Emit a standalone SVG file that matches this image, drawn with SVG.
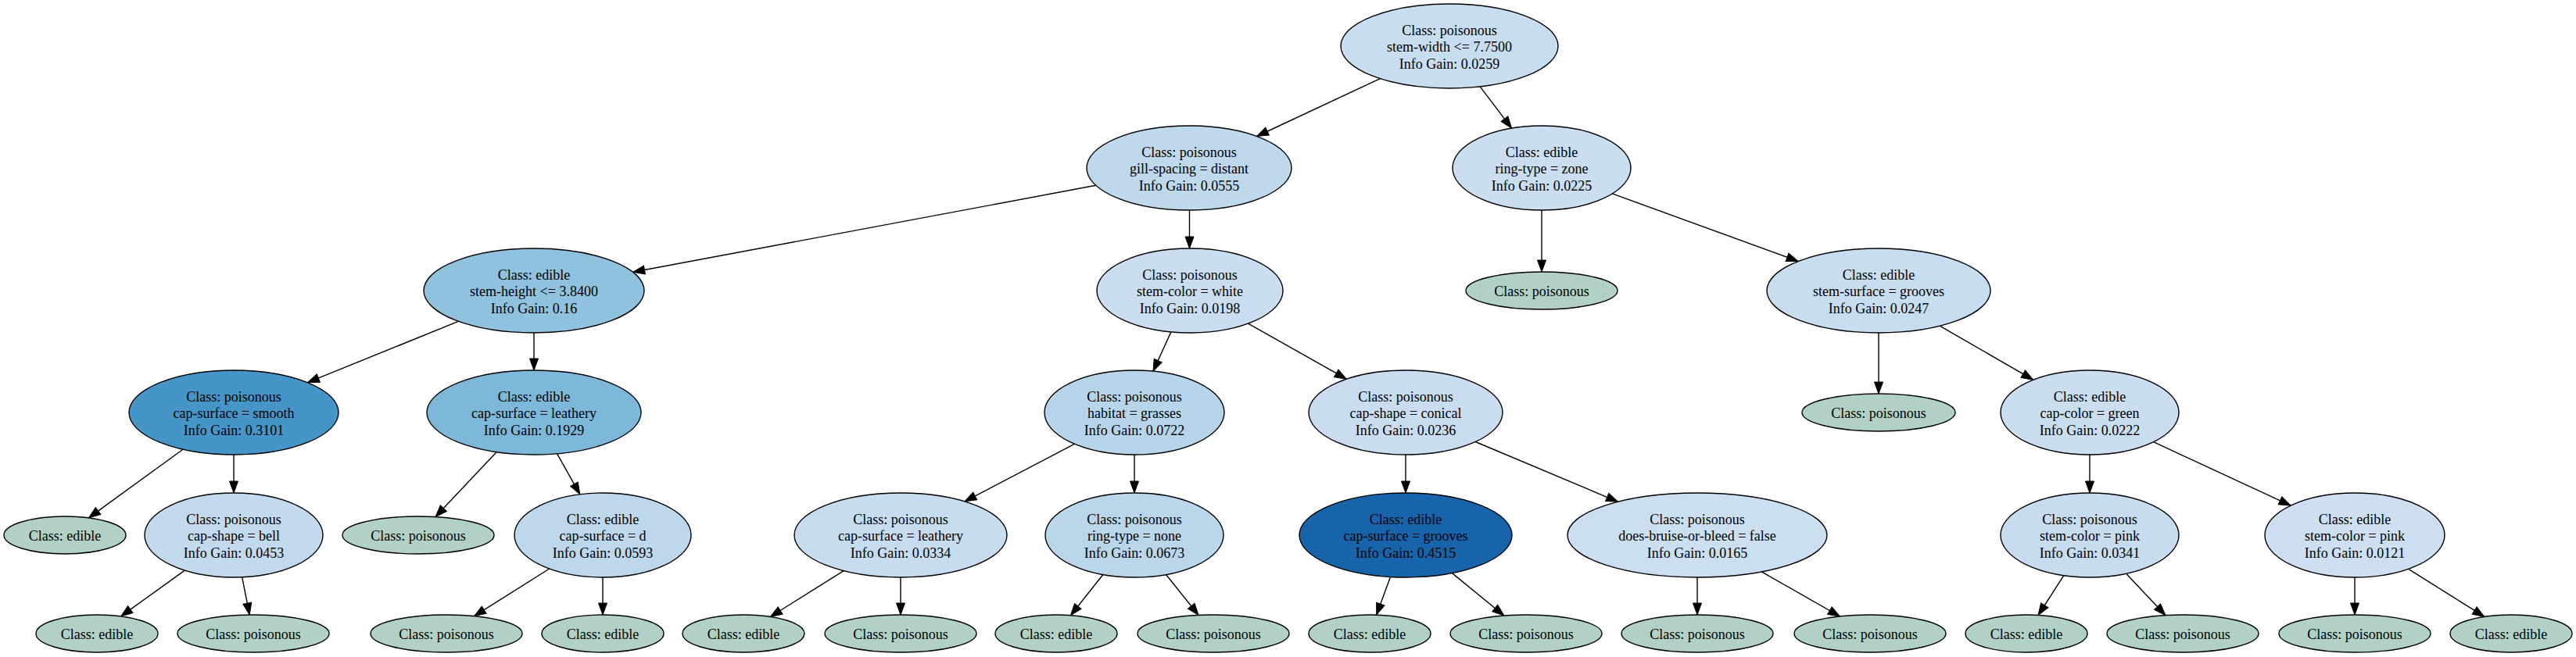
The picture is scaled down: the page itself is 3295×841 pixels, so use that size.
<svg xmlns="http://www.w3.org/2000/svg" width="3295" height="841" viewBox="0 0 3295 841">
<style>
ellipse{stroke:#000;stroke-width:1.4}
.lf{fill:#b1d1c6}
text{font-family:"Liberation Serif","Times New Roman",serif;font-size:18px;fill:#000;text-anchor:middle}
#edges line{stroke:#000;stroke-width:1.4;marker-end:url(#ah)}
</style>
<defs>
<marker id="ah" markerUnits="userSpaceOnUse" markerWidth="17" markerHeight="14" refX="15" refY="7" orient="auto" overflow="visible">
<path d="M0,1.5 L15,7 L0,12.5 z" fill="#000" stroke="#000" stroke-width="1"/>
</marker>
</defs>
<rect width="3295" height="841" fill="#fff"/>
<g id="edges">
<line x1="1765.3" y1="100.6" x2="1607.5" y2="174.5"/>
<line x1="1893.2" y1="110.8" x2="1933.5" y2="164.2"/>
<line x1="1401.7" y1="237.3" x2="809.7" y2="348.3"/>
<line x1="1521.5" y1="269" x2="1521.5" y2="318"/>
<line x1="1972" y1="269" x2="1972" y2="348"/>
<line x1="2062.4" y1="247.9" x2="2300.1" y2="334.5"/>
<line x1="586.3" y1="411.3" x2="393.4" y2="489.7"/>
<line x1="683" y1="426" x2="683" y2="474"/>
<line x1="1497.9" y1="424.9" x2="1475" y2="475.2"/>
<line x1="1596.5" y1="414.1" x2="1722.3" y2="485.2"/>
<line x1="2403" y1="426" x2="2403" y2="504"/>
<line x1="2481.2" y1="417.2" x2="2600.7" y2="486.2"/>
<line x1="234" y1="575.2" x2="113.4" y2="662.9"/>
<line x1="299" y1="582" x2="299" y2="631"/>
<line x1="635.3" y1="578.6" x2="557" y2="661.6"/>
<line x1="712.5" y1="580.7" x2="741.8" y2="632.8"/>
<line x1="1374.3" y1="568.3" x2="1234" y2="641.9"/>
<line x1="1451" y1="582" x2="1451" y2="631"/>
<line x1="1798" y1="582" x2="1798" y2="631"/>
<line x1="1887.2" y1="565.5" x2="2069.5" y2="642.3"/>
<line x1="2673" y1="582" x2="2673" y2="631"/>
<line x1="2754.5" y1="565.7" x2="2930.1" y2="647.1"/>
<line x1="236.3" y1="730.1" x2="154.7" y2="788.9"/>
<line x1="309.7" y1="738.8" x2="319.2" y2="787"/>
<line x1="702.7" y1="728" x2="606.5" y2="788.7"/>
<line x1="771" y1="739" x2="771" y2="787"/>
<line x1="1079.2" y1="730.6" x2="985.4" y2="789.5"/>
<line x1="1152" y1="739" x2="1152" y2="787"/>
<line x1="1410.9" y1="735.5" x2="1369.5" y2="787.7"/>
<line x1="1491.5" y1="735.5" x2="1533.1" y2="787.5"/>
<line x1="1778.5" y1="738.4" x2="1760.7" y2="787.1"/>
<line x1="1857.4" y1="733.6" x2="1923.9" y2="788"/>
<line x1="2171" y1="739" x2="2171" y2="787"/>
<line x1="2253.3" y1="731.9" x2="2353.4" y2="789"/>
<line x1="2639.8" y1="736.7" x2="2607.1" y2="787.5"/>
<line x1="2719.6" y1="734.3" x2="2769.9" y2="787.6"/>
<line x1="3012" y1="739" x2="3012" y2="787"/>
<line x1="3080.7" y1="728.3" x2="3177.8" y2="789.4"/>
</g>
<g id="root"><ellipse cx="1854" cy="59" rx="139" ry="54" fill="#c9ddf0"/><text x="1854" y="44.5">Class: poisonous</text><text x="1854" y="66">stem-width &lt;= 7.7500</text><text x="1854" y="87.5">Info Gain: 0.0259</text></g>
<g id="nA"><ellipse cx="1521" cy="215" rx="131" ry="54" fill="#bed8ec"/><text x="1521" y="200.5">Class: poisonous</text><text x="1521" y="222">gill-spacing = distant</text><text x="1521" y="243.5">Info Gain: 0.0555</text></g>
<g id="nB"><ellipse cx="1972" cy="215" rx="114" ry="54" fill="#cadef0"/><text x="1972" y="200.5">Class: edible</text><text x="1972" y="222">ring-type = zone</text><text x="1972" y="243.5">Info Gain: 0.0225</text></g>
<g id="nC"><ellipse cx="683" cy="372" rx="141" ry="54" fill="#8fc2de"/><text x="683" y="357.5">Class: edible</text><text x="683" y="379">stem-height &lt;= 3.8400</text><text x="683" y="400.5">Info Gain: 0.16</text></g>
<g id="nD"><ellipse cx="1522" cy="372" rx="119" ry="54" fill="#cbdef1"/><text x="1522" y="357.5">Class: poisonous</text><text x="1522" y="379">stem-color = white</text><text x="1522" y="400.5">Info Gain: 0.0198</text></g>
<g id="nE"><ellipse class="lf" cx="1972" cy="372" rx="97" ry="24"/><text x="1972" y="378.5">Class: poisonous</text></g>
<g id="nF"><ellipse cx="2403" cy="372" rx="143" ry="54" fill="#c9ddf0"/><text x="2403" y="357.5">Class: edible</text><text x="2403" y="379">stem-surface = grooves</text><text x="2403" y="400.5">Info Gain: 0.0247</text></g>
<g id="nG"><ellipse cx="299" cy="528" rx="134" ry="54" fill="#4695c8"/><text x="299" y="513.5">Class: poisonous</text><text x="299" y="535">cap-surface = smooth</text><text x="299" y="556.5">Info Gain: 0.3101</text></g>
<g id="nH"><ellipse cx="683" cy="528" rx="137" ry="54" fill="#7db8da"/><text x="683" y="513.5">Class: edible</text><text x="683" y="535">cap-surface = leathery</text><text x="683" y="556.5">Info Gain: 0.1929</text></g>
<g id="nI"><ellipse cx="1451" cy="528" rx="115" ry="54" fill="#b7d5ea"/><text x="1451" y="513.5">Class: poisonous</text><text x="1451" y="535">habitat = grasses</text><text x="1451" y="556.5">Info Gain: 0.0722</text></g>
<g id="nJ"><ellipse cx="1798" cy="528" rx="124" ry="54" fill="#caddf0"/><text x="1798" y="513.5">Class: poisonous</text><text x="1798" y="535">cap-shape = conical</text><text x="1798" y="556.5">Info Gain: 0.0236</text></g>
<g id="nK"><ellipse class="lf" cx="2403" cy="528" rx="98" ry="24"/><text x="2403" y="534.5">Class: poisonous</text></g>
<g id="nL"><ellipse cx="2673" cy="528" rx="114" ry="54" fill="#cadef0"/><text x="2673" y="513.5">Class: edible</text><text x="2673" y="535">cap-color = green</text><text x="2673" y="556.5">Info Gain: 0.0222</text></g>
<g id="n4a"><ellipse class="lf" cx="83" cy="685" rx="78" ry="24"/><text x="83" y="691.5">Class: edible</text></g>
<g id="nM"><ellipse cx="299" cy="685" rx="114" ry="54" fill="#c3daee"/><text x="299" y="670.5">Class: poisonous</text><text x="299" y="692">cap-shape = bell</text><text x="299" y="713.5">Info Gain: 0.0453</text></g>
<g id="n4b"><ellipse class="lf" cx="535" cy="685" rx="97" ry="24"/><text x="535" y="691.5">Class: poisonous</text></g>
<g id="nN"><ellipse cx="771" cy="685" rx="113" ry="54" fill="#bdd7ec"/><text x="771" y="670.5">Class: edible</text><text x="771" y="692">cap-surface = d</text><text x="771" y="713.5">Info Gain: 0.0593</text></g>
<g id="nO"><ellipse cx="1152" cy="685" rx="136" ry="54" fill="#c7dcef"/><text x="1152" y="670.5">Class: poisonous</text><text x="1152" y="692">cap-surface = leathery</text><text x="1152" y="713.5">Info Gain: 0.0334</text></g>
<g id="nP"><ellipse cx="1451" cy="685" rx="114" ry="54" fill="#b9d6eb"/><text x="1451" y="670.5">Class: poisonous</text><text x="1451" y="692">ring-type = none</text><text x="1451" y="713.5">Info Gain: 0.0673</text></g>
<g id="nQ"><ellipse cx="1798" cy="685" rx="136" ry="54" fill="#1764ab"/><text x="1798" y="670.5">Class: edible</text><text x="1798" y="692">cap-surface = grooves</text><text x="1798" y="713.5">Info Gain: 0.4515</text></g>
<g id="nR"><ellipse cx="2171" cy="685" rx="166" ry="54" fill="#cbdff1"/><text x="2171" y="670.5">Class: poisonous</text><text x="2171" y="692">does-bruise-or-bleed = false</text><text x="2171" y="713.5">Info Gain: 0.0165</text></g>
<g id="nS"><ellipse cx="2673" cy="685" rx="114" ry="54" fill="#c7dcef"/><text x="2673" y="670.5">Class: poisonous</text><text x="2673" y="692">stem-color = pink</text><text x="2673" y="713.5">Info Gain: 0.0341</text></g>
<g id="nT"><ellipse cx="3012" cy="685" rx="115" ry="54" fill="#cddff1"/><text x="3012" y="670.5">Class: edible</text><text x="3012" y="692">stem-color = pink</text><text x="3012" y="713.5">Info Gain: 0.0121</text></g>
<g id="l1"><ellipse class="lf" cx="124" cy="811" rx="78" ry="24"/><text x="124" y="817.5">Class: edible</text></g>
<g id="l2"><ellipse class="lf" cx="324" cy="811" rx="97" ry="24"/><text x="324" y="817.5">Class: poisonous</text></g>
<g id="l3"><ellipse class="lf" cx="571" cy="811" rx="97" ry="24"/><text x="571" y="817.5">Class: poisonous</text></g>
<g id="l4"><ellipse class="lf" cx="771" cy="811" rx="78" ry="24"/><text x="771" y="817.5">Class: edible</text></g>
<g id="l5"><ellipse class="lf" cx="951" cy="811" rx="78" ry="24"/><text x="951" y="817.5">Class: edible</text></g>
<g id="l6"><ellipse class="lf" cx="1152" cy="811" rx="97" ry="24"/><text x="1152" y="817.5">Class: poisonous</text></g>
<g id="l7"><ellipse class="lf" cx="1351" cy="811" rx="78" ry="24"/><text x="1351" y="817.5">Class: edible</text></g>
<g id="l8"><ellipse class="lf" cx="1552" cy="811" rx="97" ry="24"/><text x="1552" y="817.5">Class: poisonous</text></g>
<g id="l9"><ellipse class="lf" cx="1752" cy="811" rx="78" ry="24"/><text x="1752" y="817.5">Class: edible</text></g>
<g id="l10"><ellipse class="lf" cx="1952" cy="811" rx="97" ry="24"/><text x="1952" y="817.5">Class: poisonous</text></g>
<g id="l11"><ellipse class="lf" cx="2171" cy="811" rx="97" ry="24"/><text x="2171" y="817.5">Class: poisonous</text></g>
<g id="l12"><ellipse class="lf" cx="2392" cy="811" rx="97" ry="24"/><text x="2392" y="817.5">Class: poisonous</text></g>
<g id="l13"><ellipse class="lf" cx="2592" cy="811" rx="78" ry="24"/><text x="2592" y="817.5">Class: edible</text></g>
<g id="l14"><ellipse class="lf" cx="2792" cy="811" rx="97" ry="24"/><text x="2792" y="817.5">Class: poisonous</text></g>
<g id="l15"><ellipse class="lf" cx="3012" cy="811" rx="97" ry="24"/><text x="3012" y="817.5">Class: poisonous</text></g>
<g id="l16"><ellipse class="lf" cx="3212" cy="811" rx="78" ry="24"/><text x="3212" y="817.5">Class: edible</text></g>
</svg>
